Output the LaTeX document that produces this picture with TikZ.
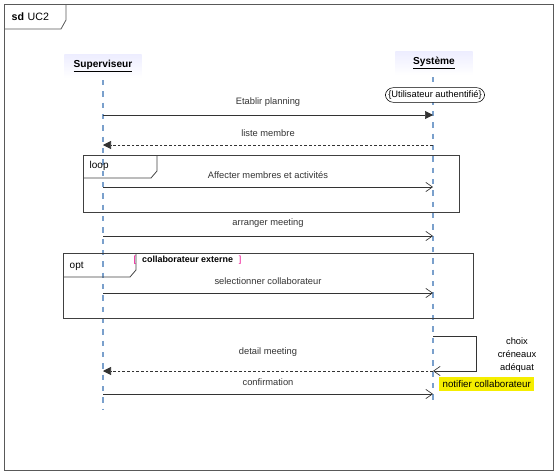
\documentclass[tikz,border=0pt]{standalone}
\usepackage{fontspec}
\setmainfont{Liberation Sans}
\usetikzlibrary{arrows.meta}
\definecolor{lifeblue}{RGB}{122,160,204}
\definecolor{notegold}{RGB}{245,238,0}

\begin{document}
\begin{tikzpicture}[x=0.75pt,y=-0.75pt,
   every node/.style={font=\fontsize{7}{8.5}\selectfont},
   headbox/.style={top color=blue!7,bottom color=white,draw=none,minimum width=58pt,minimum height=18pt,
      font=\fontsize{7.6}{9}\selectfont},
   lifeline/.style={draw=lifeblue,line width=1.3pt,dash pattern=on 4pt off 4.5pt},
   call/.style={black!80,line width=0.5pt,-{Triangle[length=6pt,width=6pt]}},
   reply/.style={black!80,line width=0.5pt,dash pattern=on 2pt off 1.5pt,-{Triangle[length=6pt,width=6pt]}},
   msg/.style={black!80,line width=0.5pt,-{Straight Barb[length=5pt,width=7pt]}},
   fragment/.style={draw=black!75,line width=0.6pt}]
   \useasboundingbox (0,0) rectangle (557,475);
   % outer frame
   \draw[black!65,line width=0.6pt] (4,4) rectangle (553,470);
   \draw[black!65,line width=0.6pt] (4,29) -- (61,29) -- (66,20) -- (66,4);
   \node[anchor=west,font=\fontsize{8}{9}\selectfont] (sd) at (7,17) {\textbf{sd}\,\,UC2};
   % lifelines
   \node[headbox] (sup) at (103,66) {\textbf{\underline{Superviseur}}};
   \node[headbox] (sys) at (434,63) {\textbf{\underline{Système}}};
   \coordinate (supend) at (103,410);
   \coordinate (sysend) at (433,400);
   \draw[lifeline] (103,80) -- (supend);
   \draw[lifeline] (433,77) -- (sysend);
   \node[draw,rounded corners=6pt,fill=white,inner sep=2.2pt] (auth) at (435,95) {\{Utilisateur authentifié\}};
   % messages
   \coordinate (a1) at (103,115); \coordinate (b1) at (433,115);
   \draw[call] (a1) -- node[above=2.5pt] {Etablir planning} (b1);
   \coordinate (a2) at (103,145); \coordinate (b2) at (433,145);
   \draw[reply] (b2) -- node[above=3pt] {liste membre} (a2);
   % loop
   \draw[fragment] (83,155) rectangle (459,212);
   \draw[fragment] (83,178) -- (151,178) -- (157,171) -- (157,155);
   \node[anchor=west,font=\fontsize{7.5}{9}\selectfont] (loop) at (85,166) {loop};
   \coordinate (a3) at (103,187); \coordinate (b3) at (433,187);
   \draw[msg] (a3) -- node[above=2.5pt] {Affecter membres et activités} (b3);
   \coordinate (a4) at (103,236); \coordinate (b4) at (433,236);
   \draw[msg] (a4) -- node[above=2.5pt] {arranger meeting} (b4);
   % opt
   \draw[fragment] (63,253) rectangle (473,318);
   \draw[fragment] (63,277) -- (130,277) -- (136,270) -- (136,253);
   \node[anchor=west,font=\fontsize{7.5}{9}\selectfont] (opt) at (65,266) {opt};
   \node[anchor=west,font=\fontsize{6.7}{8}\selectfont] (guard) at (129,260)
      {\textcolor{magenta}{[}\,\,\,\,\textbf{collaborateur externe}\,\,\,\,\textcolor{magenta}{]}};
   \coordinate (a5) at (103,293); \coordinate (b5) at (433,293);
   \draw[msg] (a5) -- node[above=2.5pt] {selectionner collaborateur} (b5);
   % self message
   \coordinate (s1) at (433,336); \coordinate (s2) at (433,371);
   \draw[msg] (s1) -- (476,336) -- (476,371) -- (s2);
   \node[align=center,font=\fontsize{7}{9.5}\selectfont] (choix) at (517,355) {choix\\créneaux\\adéquat};
   \coordinate (a6) at (103,371);
   \draw[reply] (s2) -- node[above=7pt] {detail meeting} (a6);
   \node[fill=notegold,anchor=west,inner sep=2.5pt,font=\fontsize{7.3}{8.5}\selectfont] (notif) at (439,384) {notifier collaborateur};
   \coordinate (a7) at (103,394); \coordinate (b7) at (433,394);
   \draw[msg] (a7) -- node[above=2.5pt] {confirmation} (b7);
\end{tikzpicture}
\end{document}
